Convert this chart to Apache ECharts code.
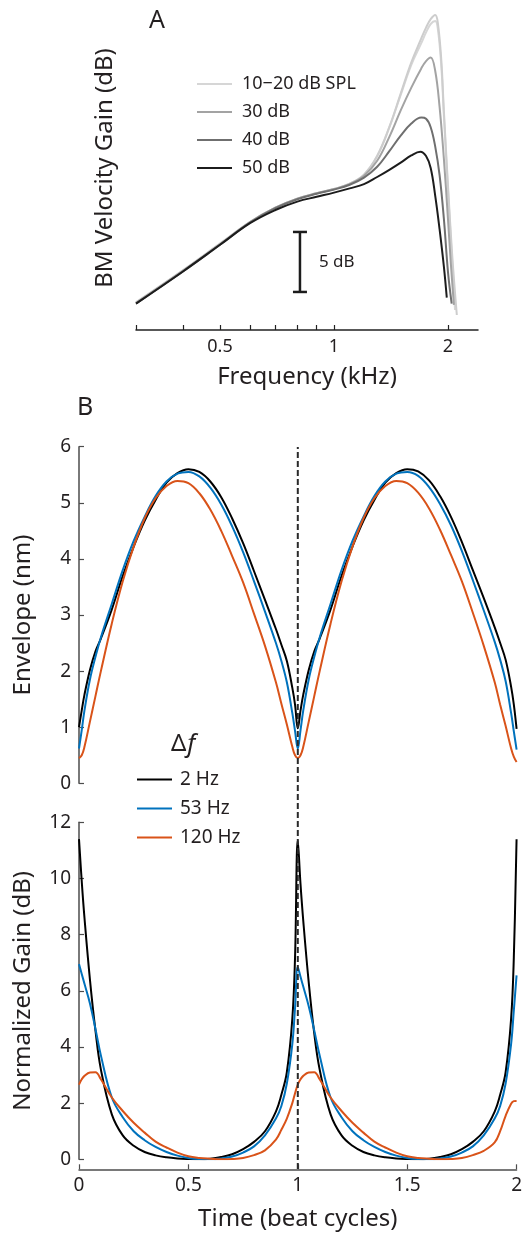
<!DOCTYPE html>
<html><head><meta charset="utf-8">
<script src="https://cdn.jsdelivr.net/npm/echarts@6/dist/echarts.min.js"></script>
<style>html,body{margin:0;padding:0;background:#fff}#c{width:525px;height:1234px}</style>
</head><body><div id="c"></div>
<script>
// ---------- Panel A data (frequency in kHz, gain in dB, arbitrary offset) ----------
const freq10 = [0.3,0.4,0.5,0.6,0.7,0.8,0.9,1.0,1.1,1.2,1.3,1.4,1.5,1.6,1.7,1.75,1.8,1.85,1.88,1.92,1.95,2.0,2.05,2.11];
const gain10 = [2.3,5.0,7.2,9.0,10.2,10.95,11.4,11.75,12.2,12.95,14.5,16.9,19.7,22.3,24.3,25.2,25.9,26.25,25.6,22.5,18.3,12.0,6.4,1.25];
const freq20 = [0.3,0.4,0.5,0.6,0.7,0.8,0.9,1.0,1.1,1.2,1.3,1.4,1.5,1.6,1.7,1.75,1.8,1.85,1.88,1.92,1.95,2.0,2.05,2.087];
const gain20 = [2.3,5.0,7.2,9.0,10.2,10.95,11.4,11.75,12.2,12.95,14.5,16.9,19.6,22.1,23.9,24.8,25.5,25.75,25.1,22.0,17.9,11.6,5.8,1.67];
const freq30 = [0.3,0.4,0.5,0.6,0.7,0.8,0.9,1.0,1.1,1.2,1.3,1.4,1.5,1.6,1.7,1.75,1.8,1.85,1.9,1.95,2.0,2.035,2.073];
const gain30 = [2.25,4.95,7.15,9.0,10.2,10.95,11.4,11.75,12.15,12.85,14.1,16.1,18.3,20.2,21.8,22.4,22.7,21.6,18.6,14.3,9.2,5.5,2.1];
const freq40 = [0.3,0.4,0.5,0.6,0.7,0.8,0.9,1.0,1.1,1.2,1.3,1.4,1.5,1.6,1.7,1.75,1.8,1.85,1.9,1.95,2.0,2.045];
const gain40 = [2.2,4.9,7.1,8.95,10.15,10.9,11.35,11.7,12.1,12.7,13.6,14.9,16.2,17.2,17.7,17.6,16.9,15.3,12.9,9.3,4.8,2.2];
const freq50 = [0.3,0.4,0.5,0.6,0.7,0.8,0.9,1.0,1.1,1.2,1.3,1.4,1.5,1.6,1.69,1.75,1.8,1.85,1.9,1.95,1.985];
const gain50 = [2.2,4.9,7.1,8.9,10.0,10.7,11.1,11.45,11.8,12.15,12.75,13.35,13.95,14.55,14.86,14.5,13.5,11.2,8.4,5.3,2.7];
const levelNames = ['10\u221220 dB SPL','30 dB','40 dB','50 dB'];
const freqTicks = [0.3,0.4,0.5,0.6,0.7,0.8,0.9,1,2];
const freqLabels = [0.5,1,2];
const scaleBarFreq = 0.813;
const scaleBarDb = [3.17, 8.17];
const scaleBarText = '5 dB';

// ---------- Panel B data (time in beat cycles) ----------
const timeB = [0,0.0125,0.025,0.05,0.075,0.1,0.15,0.2,0.25,0.3,0.35,0.4,0.45,0.5,0.55,0.6,0.65,0.7,0.75,0.8,0.85,0.9,0.925,0.95,0.975,0.9875,
  1,1.0125,1.025,1.05,1.075,1.1,1.15,1.2,1.25,1.3,1.35,1.4,1.45,1.5,1.55,1.6,1.65,1.7,1.75,1.8,1.85,1.9,1.925,1.95,1.975,1.9875,2];
const env2Hz = [1.0,1.3,1.58,2.02,2.35,2.58,3.1,3.7,4.22,4.68,5.05,5.36,5.53,5.6,5.55,5.38,5.1,4.72,4.28,3.78,3.27,2.75,2.47,2.18,1.7,1.4,
  0.98,1.3,1.58,2.02,2.35,2.58,3.1,3.7,4.22,4.68,5.05,5.36,5.53,5.6,5.56,5.4,5.12,4.75,4.3,3.8,3.3,2.78,2.5,2.2,1.72,1.4,0.97];
const env53Hz = [0.62,0.95,1.3,1.85,2.25,2.6,3.2,3.8,4.32,4.75,5.12,5.38,5.52,5.55,5.47,5.27,4.97,4.58,4.12,3.6,3.06,2.5,2.18,1.8,1.25,0.93,
  0.62,0.95,1.3,1.85,2.25,2.6,3.2,3.8,4.32,4.75,5.12,5.38,5.52,5.55,5.48,5.28,4.98,4.6,4.14,3.62,3.08,2.52,2.2,1.82,1.25,0.92,0.6];
const env120Hz = [0.45,0.5,0.65,1.1,1.55,2.0,2.85,3.6,4.22,4.72,5.08,5.3,5.39,5.35,5.17,4.88,4.5,4.05,3.58,3.02,2.45,1.8,1.42,1.05,0.65,0.5,
  0.45,0.5,0.65,1.1,1.55,2.0,2.85,3.6,4.22,4.72,5.08,5.3,5.39,5.35,5.18,4.9,4.52,4.07,3.6,3.04,2.45,1.8,1.4,1.02,0.62,0.47,0.38];
const gain2Hz = [11.4,9.9,8.6,6.4,4.6,3.2,1.6,0.85,0.48,0.26,0.14,0.07,0.03,0.01,0.0,0.02,0.08,0.18,0.36,0.62,1.0,1.7,2.3,3.1,5.0,7.2,
  11.35,9.8,8.5,6.3,4.5,3.2,1.6,0.85,0.48,0.26,0.14,0.07,0.03,0.01,0.0,0.02,0.08,0.18,0.36,0.62,1.0,1.7,2.3,3.1,5.0,7.2,11.4];
const gain53Hz = [6.95,6.6,6.25,5.55,4.65,3.7,2.2,1.5,1.0,0.68,0.44,0.26,0.13,0.05,0.01,0.0,0.03,0.1,0.24,0.46,0.85,1.45,1.9,2.7,4.1,5.4,
  6.85,6.5,6.15,5.45,4.6,3.7,2.2,1.5,1.0,0.68,0.44,0.26,0.13,0.05,0.01,0.0,0.03,0.1,0.24,0.46,0.85,1.45,1.9,2.7,4.1,5.3,6.55];
const gain120Hz = [2.66,2.85,2.97,3.09,3.1,2.85,2.2,1.72,1.3,0.95,0.63,0.42,0.24,0.11,0.05,0.02,0.0,0.01,0.05,0.15,0.32,0.7,1.05,1.45,2.0,2.35,
  2.66,2.85,2.97,3.09,3.1,2.85,2.2,1.72,1.3,0.95,0.63,0.42,0.24,0.11,0.05,0.02,0.0,0.01,0.05,0.15,0.3,0.6,1.0,1.55,1.98,2.07,2.08];
const dfNames = ['2 Hz','53 Hz','120 Hz'];
const markerTime = 1;

// ---------- styles ----------
const FONT = "'Noto Sans', 'Open Sans', sans-serif";
const TXT = '#231f20';
const AX = '#4d4d4d';
const greys = ['#cdcdcd','#d6d6d6','#a3a3a3','#6f6f6f','#1c1c1c'];
const dfColors = ['#000000','#0072BD','#D95319'];

const zip = (xs, ys) => xs.map((x, i) => [x, ys[i]]);
const lineS = (name, x, y, color, xi, yi) => ({
  type: 'line', name, data: zip(x, y), xAxisIndex: xi, yAxisIndex: yi,
  showSymbol: false, symbol: 'none', smooth: 0.4,
  lineStyle: { color, width: 2 }, itemStyle: { color }, silent: true, animation: false
});

const chart = echarts.init(document.getElementById('c'), null, { renderer: 'canvas' });
const option = {
  animation: false,
  backgroundColor: '#fff',
  textStyle: { fontFamily: FONT },
  title: [
    { text: 'A', left: 144, top: 3, textStyle: { fontFamily: FONT, fontSize: 25, fontWeight: 'normal', color: TXT } },
    { text: 'B', left: 72, top: 390, textStyle: { fontFamily: FONT, fontSize: 25, fontWeight: 'normal', color: TXT } },
    { text: '{d|\u0394}{f|f}', left: 166, top: 727, textStyle: { fontWeight: 'normal', rich: {
        d: { fontFamily: FONT, fontSize: 24, fontWeight: 'normal', color: TXT },
        f: { fontFamily: FONT, fontStyle: 'italic', fontWeight: 'normal', fontSize: 25, color: TXT, padding: [0, 0, 0, 1] } } } }
  ],
  legend: [
    { data: levelNames, orient: 'vertical', left: 192, top: 70, itemWidth: 35, itemHeight: 2, itemGap: 10,
      icon: 'rect', selectedMode: false,
      textStyle: { fontFamily: FONT, fontSize: 18, color: TXT, padding: [0, 0, 0, 5] } },
    { data: dfNames, orient: 'vertical', left: 132, top: 765, itemWidth: 35, itemHeight: 2, itemGap: 10,
      icon: 'rect', selectedMode: false,
      textStyle: { fontFamily: FONT, fontSize: 19, color: TXT, padding: [0, 0, 0, 3] } }
  ],
  grid: [
    { left: 136, top: 6, width: 342, height: 324 },
    { left: 79, top: 446.7, width: 437.6, height: 336.6 },
    { left: 79, top: 822.3, width: 437.6, height: 337 },
    { left: 79, top: 447, width: 437.6, height: 722 }
  ],
  xAxis: [
    { gridIndex: 0, type: 'log', logBase: 2, min: 0.3, max: 2.4,
      axisLine: { onZero: false, lineStyle: { color: '#222', width: 1.5 } },
      axisTick: { inside: true, length: 5, customValues: freqTicks, lineStyle: { color: '#222', width: 1.2 } },
      axisLabel: { customValues: freqLabels, fontFamily: FONT, fontSize: 18, color: TXT, margin: 8 },
      splitLine: { show: false }, minorTick: { show: false },
      name: 'Frequency (kHz)', nameLocation: 'middle', nameGap: 35,
      nameTextStyle: { fontFamily: FONT, fontSize: 24, color: TXT } },
    { gridIndex: 1, type: 'value', min: 0, max: 2, show: false },
    { gridIndex: 2, type: 'value', min: 0, max: 2, interval: 0.5, offset: 10,
      axisLine: { onZero: false, lineStyle: { color: AX, width: 1.5 } },
      axisTick: { inside: true, length: 5, lineStyle: { color: AX, width: 1.2 } },
      axisLabel: { fontFamily: FONT, fontSize: 19, color: TXT, margin: 7 },
      splitLine: { show: false },
      name: 'Time (beat cycles)', nameLocation: 'middle', nameGap: 38,
      nameTextStyle: { fontFamily: FONT, fontSize: 24, color: TXT } },
    { gridIndex: 3, type: 'value', min: 0, max: 2, show: false }
  ],
  yAxis: [
    { gridIndex: 0, type: 'value', min: 0, max: 27,
      axisLine: { show: false }, axisTick: { show: false }, axisLabel: { show: false }, splitLine: { show: false },
      name: 'BM Velocity Gain (dB)', nameLocation: 'middle', nameRotate: 90, nameGap: 19,
      nameTextStyle: { fontFamily: FONT, fontSize: 24, color: TXT } },
    { gridIndex: 1, type: 'value', min: 0, max: 6, interval: 1,
      axisLine: { show: true, onZero: false, lineStyle: { color: AX, width: 1.5 } },
      axisTick: { show: true, inside: true, length: 5, lineStyle: { color: AX, width: 1.2 } },
      axisLabel: { fontFamily: FONT, fontSize: 19, color: TXT, margin: 8 },
      splitLine: { show: false },
      name: 'Envelope (nm)', nameLocation: 'middle', nameRotate: 90, nameGap: 44,
      nameTextStyle: { fontFamily: FONT, fontSize: 24, color: TXT } },
    { gridIndex: 2, type: 'value', min: 0, max: 12, interval: 2,
      axisLine: { show: true, onZero: false, lineStyle: { color: AX, width: 1.5 } },
      axisTick: { show: true, inside: true, length: 5, lineStyle: { color: AX, width: 1.2 } },
      axisLabel: { fontFamily: FONT, fontSize: 19, color: TXT, margin: 8 },
      splitLine: { show: false },
      name: 'Normalized Gain (dB)', nameLocation: 'middle', nameRotate: 90, nameGap: 44,
      nameTextStyle: { fontFamily: FONT, fontSize: 24, color: TXT } },
    { gridIndex: 3, type: 'value', min: 0, max: 1, show: false }
  ],
  series: [
    lineS(levelNames[0], freq20, gain20, greys[1], 0, 0),
    lineS(levelNames[0], freq10, gain10, greys[0], 0, 0),
    lineS(levelNames[1], freq30, gain30, greys[2], 0, 0),
    lineS(levelNames[2], freq40, gain40, greys[3], 0, 0),
    lineS(levelNames[3], freq50, gain50, greys[4], 0, 0),
    { type: 'line', name: 'scalebar', xAxisIndex: 0, yAxisIndex: 0,
      data: scaleBarDb.map(d => [scaleBarFreq, d]),
      symbol: 'rect', symbolSize: [14, 2.5], showSymbol: true,
      lineStyle: { color: '#1c1c1c', width: 2.5 }, itemStyle: { color: '#1c1c1c' }, silent: true,
      markPoint: { symbol: 'circle', symbolSize: 0, silent: true,
        data: [{ coord: [scaleBarFreq, (scaleBarDb[0] + scaleBarDb[1]) / 2], value: scaleBarText }],
        label: { show: true, position: 'right', distance: 19, formatter: scaleBarText,
          fontFamily: FONT, fontSize: 17, color: TXT } } },
    lineS(dfNames[0], timeB, env2Hz, dfColors[0], 1, 1),
    lineS(dfNames[1], timeB, env53Hz, dfColors[1], 1, 1),
    lineS(dfNames[2], timeB, env120Hz, dfColors[2], 1, 1),
    lineS(dfNames[0], timeB, gain2Hz, dfColors[0], 2, 2),
    lineS(dfNames[1], timeB, gain53Hz, dfColors[1], 2, 2),
    lineS(dfNames[2], timeB, gain120Hz, dfColors[2], 2, 2),
    { type: 'line', name: 'marker', xAxisIndex: 3, yAxisIndex: 3, z: 10,
      data: [[markerTime, 0], [markerTime, 1]], symbol: 'none', silent: true,
      lineStyle: { color: '#2a2a2a', width: 2, type: [6, 3] } }
  ]
};
chart.setOption(option);
</script></body></html>
